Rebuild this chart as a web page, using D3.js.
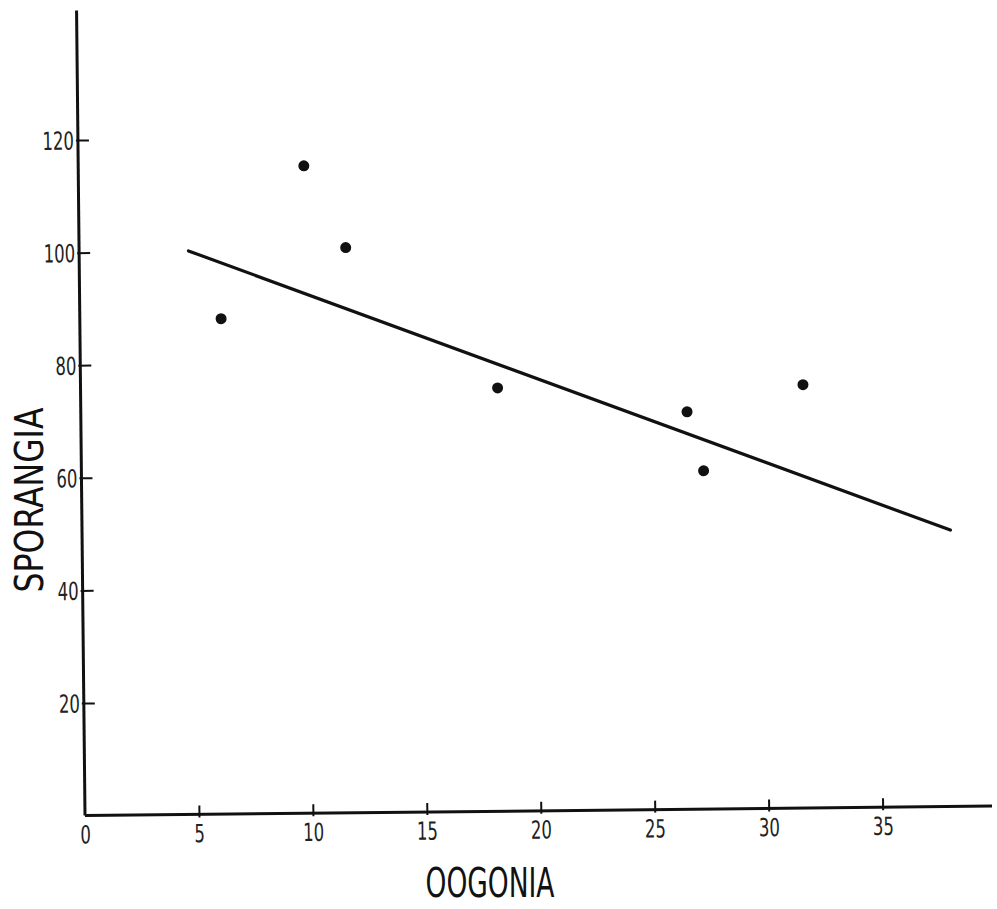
<!DOCTYPE html>
<html>
<head>
<meta charset="utf-8">
<script src="https://cdn.jsdelivr.net/npm/d3@7"></script>
<style>
  body { margin: 0; background: #fff; }
  svg { display: block; }
  .tick text { font-family: "Liberation Sans Narrow", "DejaVu Sans Condensed", sans-serif; fill: #222; }
</style>
</head>
<body>
<div id="main"></div>
<script>
var oogonia    = [6.2, 9.9, 11.7, 18.3, 26.6, 27.3, 31.7];
var sporangia  = [88, 115, 100.4, 75.2, 70.6, 60.1, 75.2];
// fitted line, two end points
var fitX = [4.8, 38.1];
var fitY = [100.1, 49.1];
var xTicks = [0, 5, 10, 15, 20, 25, 30, 35];
var yTicks = [20, 40, 60, 80, 100, 120];
var xTitle = "OOGONIA";
var yTitle = "SPORANGIA";

var ctx = {
    w: 997,
    h: 909,
    ox: 85,
    oy: 815.6,
    tilt: -0.6,   // the scan is slightly rotated
    ink: "#111",
    digitW: 10.5
};

// narrow the tick digits to look like the stencil lettering
var squeeze = function(sel){
    sel.attr("textLength", function(d){ return String(d).length * ctx.digitW; })
       .attr("lengthAdjust", "spacingAndGlyphs");
};

var createViz = function(){
    var svgEl = d3.select("#main").append("svg")
        .attr("width", ctx.w)
        .attr("height", ctx.h);
    svgEl.append("rect").attr("width", ctx.w).attr("height", ctx.h).attr("fill", "#fff");

    ctx.xScale = d3.scaleLinear().domain([0, 39.8]).range([ctx.ox, ctx.ox + 39.8 * 22.79]);
    ctx.yScale = d3.scaleLinear().domain([0, 143]).range([ctx.oy, ctx.oy - 143 * 5.63]);

    var rootG = svgEl.append("g")
        .attr("transform", "rotate(" + ctx.tilt + "," + ctx.ox + "," + ctx.oy + ")");

    // x axis
    var xG = rootG.append("g")
        .attr("transform", "translate(0," + ctx.oy + ")")
        .call(d3.axisBottom(ctx.xScale).tickValues(xTicks).tickFormat(d3.format("d")).tickSize(3));
    xG.select(".domain").attr("stroke", ctx.ink).attr("stroke-width", 3).attr("d", "M" + ctx.xScale(0) + ",0H" + ctx.xScale(39.8));
    xG.selectAll(".tick line")
        .attr("y1", -9).attr("y2", 3)
        .attr("stroke", ctx.ink).attr("stroke-width", 2)
        .style("display", function(d){ return d === 0 ? "none" : null; });
    xG.selectAll(".tick text")
        .attr("y", 10)
        .style("font-size", "25px")
        .call(squeeze);

    // y axis
    var yG = rootG.append("g")
        .attr("transform", "translate(" + ctx.ox + ",0)")
        .call(d3.axisLeft(ctx.yScale).tickValues(yTicks).tickFormat(d3.format("d")).tickSize(2));
    yG.select(".domain").attr("stroke", ctx.ink).attr("stroke-width", 3).attr("d", "M0," + ctx.yScale(0) + "V" + ctx.yScale(143));
    yG.selectAll(".tick line")
        .attr("x1", -2).attr("x2", 11)
        .attr("stroke", ctx.ink).attr("stroke-width", 2);
    yG.selectAll(".tick text")
        .attr("x", -4)
        .attr("dy", "0.36em")
        .style("font-size", "25px")
        .call(squeeze);

    // regression line
    rootG.append("line")
        .attr("x1", ctx.xScale(fitX[0])).attr("y1", ctx.yScale(fitY[0]))
        .attr("x2", ctx.xScale(fitX[1])).attr("y2", ctx.yScale(fitY[1]))
        .attr("stroke", ctx.ink).attr("stroke-width", 3.2).attr("stroke-linecap", "round");

    // points
    rootG.selectAll("circle")
        .data(oogonia)
        .enter()
        .append("circle")
        .attr("cx", function(d){ return ctx.xScale(d); })
        .attr("cy", function(d, i){ return ctx.yScale(sporangia[i]); })
        .attr("r", 5.5)
        .attr("fill", ctx.ink);

    // axis titles
    svgEl.append("text")
        .attr("x", 490).attr("y", 897)
        .attr("text-anchor", "middle")
        .attr("textLength", 129).attr("lengthAdjust", "spacingAndGlyphs")
        .style("font-family", "'Liberation Sans Narrow', 'DejaVu Sans Condensed', sans-serif")
        .style("font-size", "40px")
        .attr("fill", ctx.ink)
        .text(xTitle);
    svgEl.append("text")
        .attr("transform", "translate(43,500) rotate(-90)")
        .attr("text-anchor", "middle")
        .attr("textLength", 185).attr("lengthAdjust", "spacingAndGlyphs")
        .style("font-family", "'Liberation Sans Narrow', 'DejaVu Sans Condensed', sans-serif")
        .style("font-size", "39px")
        .attr("fill", ctx.ink)
        .text(yTitle);
};

createViz();
</script>
</body>
</html>
